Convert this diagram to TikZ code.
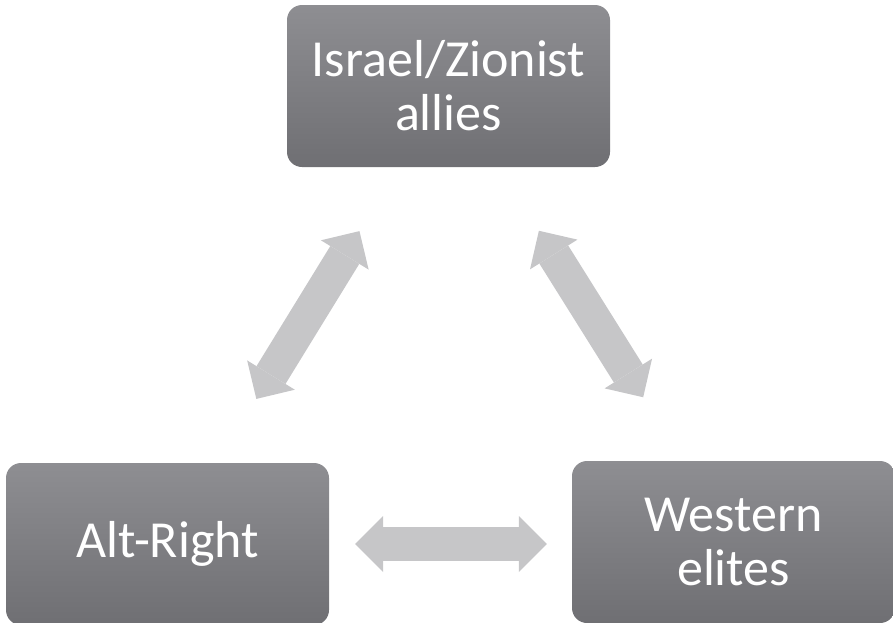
\documentclass[tikz,border=0pt]{standalone}
\usepackage{fontspec}
\setmainfont{Carlito}
\usetikzlibrary{arrows.meta,positioning}
\definecolor{boxTop}{RGB}{142, 142, 146}
\definecolor{boxBottom}{RGB}{111, 111, 115}
\definecolor{arrowGray}{RGB}{198, 198, 200}

\begin{document}
\begin{tikzpicture}[
        x=1pt, y=-1pt,
        actor/.style={rectangle, rounded corners=15pt, top color=boxTop, bottom color=boxBottom, draw=none, minimum width=323pt, minimum height=162pt, inner sep=0pt, align=center, text=white, font=\fontsize{52}{54}\selectfont},
        link/.style={line width=34pt, draw=arrowGray, {Triangle[length=28pt,width=56pt,line width=0pt]}-{Triangle[length=28pt,width=56pt,line width=0pt]}}
    ]
        \useasboundingbox (0,0) rectangle (893,622);
        
        % Top
        \node[actor] (israel) at (448.5,86) {Israel/Zionist\\allies};
        
        % Bottom row
        \node[actor] (altright) at (167.5,544) {Alt-Right};
        \node[actor] (elites) at (733.5,542) {Western\\elites};
        
        % Arrows
        \draw[link, shorten <=75pt, shorten >=75pt] (altright) -- (israel);
        \draw[link, shorten <=75pt, shorten >=75pt] (israel) -- (elites);
        \draw[link, shorten <=26pt, shorten >=25pt] (altright.east) -- (elites.west |- altright.east);
        
\end{tikzpicture}
\end{document}
